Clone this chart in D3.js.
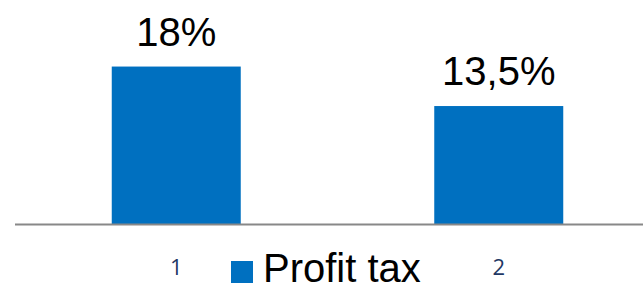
<!DOCTYPE html>
<html>
<head>
<meta charset="utf-8">
<script src="https://cdn.jsdelivr.net/npm/d3@7"></script>
<style>
  body { margin: 0; background: #fff; }
  svg { display: block; }
</style>
</head>
<body>
<div id="chart"></div>
<script>
// data
const categories = ["1", "2"];
const profitTax = [18, 13.5];
const valueLabels = ["18%", "13,5%"];
const seriesName = "Profit tax";

const width = 643, height = 287;
const baseY = 224.5;

const svg = d3.select("#chart").append("svg")
    .attr("width", width)
    .attr("height", height);

let x = d3.scaleBand()
    .domain(categories)
    .range([15, 660])
    .paddingInner(0.6)
    .paddingOuter(0.3);

let y = d3.scaleLinear()
    .domain([0, 20])
    .range([baseY, baseY - 175.5]);

// bars
svg.append("g")
  .selectAll("rect")
  .data(profitTax)
  .join("rect")
    .attr("x", (d, i) => x(categories[i]))
    .attr("y", d => y(d))
    .attr("width", x.bandwidth())
    .attr("height", d => baseY - y(d))
    .attr("fill", "#0070C0");

// value labels
svg.append("g")
  .selectAll("text")
  .data(profitTax)
  .join("text")
    .attr("x", (d, i) => x(categories[i]) + x.bandwidth() / 2)
    .attr("y", d => y(d) - 21)
    .attr("text-anchor", "middle")
    .style("font-family", "Liberation Sans, Arial, sans-serif")
    .style("font-size", "40px")
    .attr("fill", "#000")
    .text((d, i) => valueLabels[i]);

// baseline
svg.append("line")
    .attr("x1", 15).attr("x2", width)
    .attr("y1", baseY).attr("y2", baseY)
    .attr("stroke", "#888")
    .attr("stroke-width", 2);

// category ticks
let xAxis = g => g
    .attr("transform", `translate(0,${baseY})`)
    .call(d3.axisBottom(x).tickSize(0).tickPadding(35))
    .call(g => g.select(".domain").remove())
    .call(g => g.selectAll("text")
        .style("font-family", "Open Sans, DejaVu Sans, sans-serif")
        .style("font-size", "22px")
        .attr("fill", "#1F3864"));

svg.append("g").call(xAxis);

// legend
const legend = svg.append("g").attr("transform", "translate(231,261)");
legend.append("rect")
    .attr("width", 22).attr("height", 22)
    .attr("fill", "#0070C0");
legend.append("text")
    .attr("x", 32).attr("y", 21)
    .style("font-family", "Liberation Sans, Arial, sans-serif")
    .style("font-size", "40px")
    .attr("fill", "#000")
    .text(seriesName);
</script>
</body>
</html>
